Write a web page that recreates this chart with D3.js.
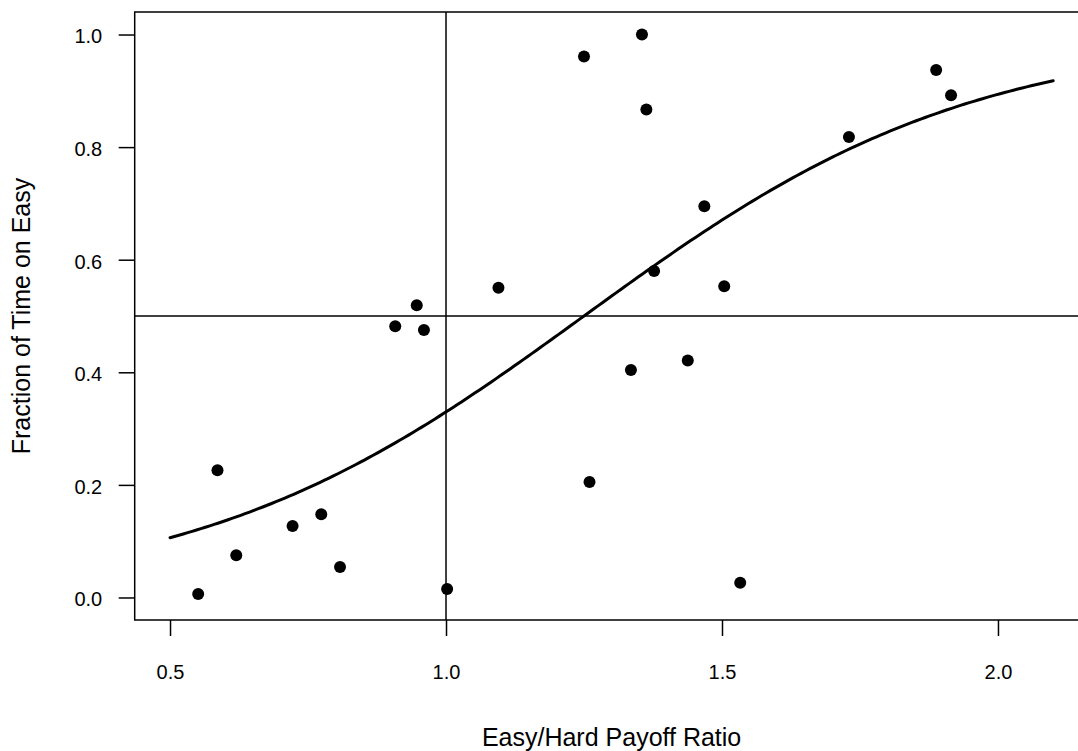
<!DOCTYPE html>
<html>
<head>
<meta charset="utf-8">
<script src="https://cdn.jsdelivr.net/npm/d3@7/dist/d3.min.js"></script>
<style>
  body { margin: 0; background: #fff; }
  svg text { font-family: "Liberation Sans", Arial, Helvetica, sans-serif; fill: #000; }
</style>
</head>
<body>
<svg id="chart" width="1078" height="751"></svg>
<script>
// Observed sessions: easy/hard payoff ratio vs. fraction of time spent on the easy option
const payoffRatio  = [0.551, 0.586, 0.620, 0.722, 0.774, 0.808, 0.908, 0.947, 0.960, 1.002,
                      1.095, 1.250, 1.260, 1.335, 1.355, 1.363, 1.377, 1.438, 1.468, 1.504,
                      1.533, 1.730, 1.888, 1.915];
const fractionEasy = [0.006, 0.226, 0.075, 0.127, 0.148, 0.054, 0.482, 0.519, 0.475, 0.015,
                      0.550, 0.961, 0.205, 0.404, 1.000, 0.867, 0.580, 0.421, 0.695, 0.553,
                      0.026, 0.818, 0.937, 0.892];

// Logistic fit: logit(p) = intercept + slope * ratio, drawn over the fitted range
const fitIntercept = -3.55;
const fitSlope = 2.84;
const fitRange = [0.5, 2.1];

// Reference lines: equal payoff and indifference
const refRatio = 1.0;
const refFraction = 0.5;

const xTicks = [0.5, 1.0, 1.5, 2.0];
const yTicks = [0.0, 0.2, 0.4, 0.6, 0.8, 1.0];

const xLabel = "Easy/Hard Payoff Ratio";
const yLabel = "Fraction of Time on Easy";

const svg = d3.select("#chart");

// Plot region spans the data range plus 4% on each side
const xPad = 0.04 * (fitRange[1] - fitRange[0]);
const x = d3.scaleLinear()
  .domain([fitRange[0] - xPad, fitRange[1] + xPad])
  .range([134.7, 1088.5]);
const y = d3.scaleLinear()
  .domain([-0.04, 1.04])
  .range([620, 12]);

const [x0, x1] = x.range();
const [yb, yt] = y.range();

// Clip for marks drawn inside the plot region
svg.append("clipPath").attr("id", "plotClip")
  .append("rect").attr("x", x0).attr("y", yt).attr("width", x1 - x0).attr("height", yb - yt);

const plot = svg.append("g").attr("clip-path", "url(#plotClip)");

// Reference lines
plot.append("line")
  .attr("x1", x(refRatio)).attr("x2", x(refRatio))
  .attr("y1", yt).attr("y2", yb)
  .attr("stroke", "#000").attr("stroke-width", 1.5);
plot.append("line")
  .attr("x1", x0).attr("x2", x1)
  .attr("y1", y(refFraction)).attr("y2", y(refFraction))
  .attr("stroke", "#000").attr("stroke-width", 1.5);

// Fitted logistic curve
const fitX = d3.range(0, 201).map(i => fitRange[0] + (fitRange[1] - fitRange[0]) * i / 200);
const logistic = r => 1 / (1 + Math.exp(-(fitIntercept + fitSlope * r)));
plot.append("path")
  .datum(fitX)
  .attr("fill", "none")
  .attr("stroke", "#000")
  .attr("stroke-width", 3)
  .attr("stroke-linecap", "round")
  .attr("d", d3.line().x(r => x(r)).y(r => y(logistic(r))));

// Data points
plot.append("g").selectAll("circle")
  .data(payoffRatio.map((r, i) => ({ r, f: fractionEasy[i] })))
  .join("circle")
  .attr("cx", d => x(d.r))
  .attr("cy", d => y(d.f))
  .attr("r", 6)
  .attr("fill", "#000");

// Frame
svg.append("rect")
  .attr("x", x0).attr("y", yt)
  .attr("width", x1 - x0).attr("height", yb - yt)
  .attr("fill", "none").attr("stroke", "#000").attr("stroke-width", 1.5);

// Axes
const fmt = d3.format(".1f");
const xAxis = svg.append("g")
  .attr("transform", `translate(0,${yb})`)
  .call(d3.axisBottom(x).tickValues(xTicks).tickFormat(fmt).tickSize(16).tickPadding(29));
xAxis.select(".domain").remove();
xAxis.selectAll(".tick line").attr("stroke", "#000").attr("stroke-width", 1.5);
xAxis.selectAll(".tick text").attr("font-size", 20).attr("fill", "#000")
  .style("font-family", '"Liberation Sans", Arial, sans-serif');

const yAxis = svg.append("g")
  .attr("transform", `translate(${x0},0)`)
  .call(d3.axisLeft(y).tickValues(yTicks).tickFormat(fmt).tickSize(16).tickPadding(16.5));
yAxis.select(".domain").remove();
yAxis.selectAll(".tick line").attr("stroke", "#000").attr("stroke-width", 1.5);
yAxis.selectAll(".tick text").attr("font-size", 20).attr("fill", "#000").attr("dy", "0.42em")
  .style("font-family", '"Liberation Sans", Arial, sans-serif');

// Axis titles
svg.append("text")
  .attr("x", (x0 + x1) / 2)
  .attr("y", 746)
  .attr("text-anchor", "middle")
  .attr("font-size", 25)
  .text(xLabel);

svg.append("text")
  .attr("transform", `translate(30,${(yt + yb) / 2}) rotate(-90)`)
  .attr("text-anchor", "middle")
  .attr("font-size", 25)
  .text(yLabel);
</script>
</body>
</html>
